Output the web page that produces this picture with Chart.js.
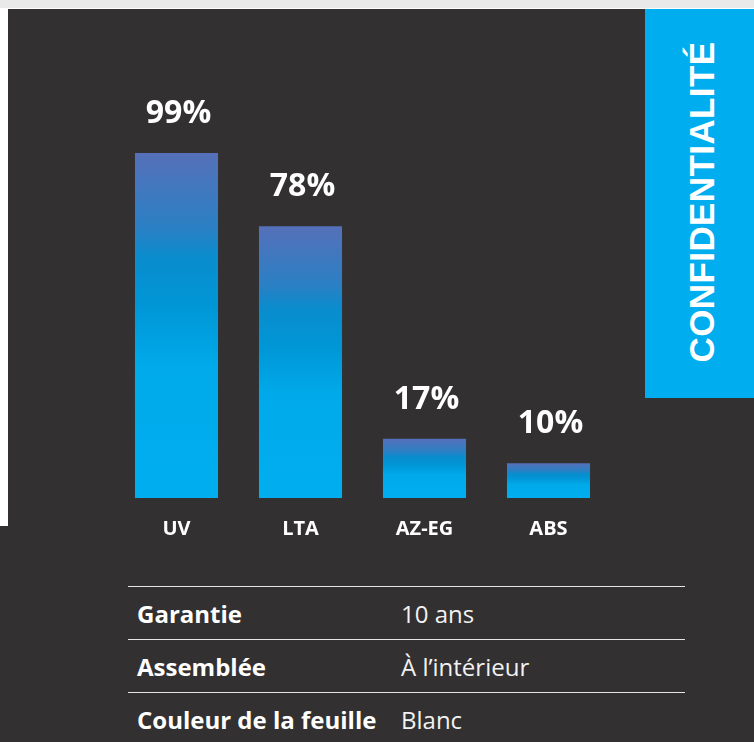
<!DOCTYPE html>
<html lang="fr">
<head>
<meta charset="utf-8">
<title>Confidentialité</title>
<script src="https://cdn.jsdelivr.net/npm/chart.js@4/dist/chart.umd.min.js"></script>
<style>
  html, body {
    margin: 0;
    padding: 0;
    width: 754px;
    height: 742px;
    overflow: hidden;
    background: #323031;
    font-family: "Open Sans", sans-serif;
  }
  .bandeHaut {
    position: absolute;
    left: 0;
    top: 0;
    width: 754px;
    height: 8px;
    background: #e9e9e9;
    border-bottom: 1px solid #ffffff;
  }
  .bandeGauche {
    position: absolute;
    left: 0;
    top: 9px;
    width: 8px;
    height: 517px;
    background: #ffffff;
  }
  .encadreBleu {
    position: absolute;
    left: 645px;
    top: 9px;
    width: 109px;
    height: 389px;
    background: #00adef;
  }
  .encadreBleu span {
    position: absolute;
    left: 57px;
    top: 193px;
    transform: translate(-50%, -50%) rotate(-90deg);
    white-space: nowrap;
    color: #ffffff;
    font-family: "Liberation Sans", Arial, sans-serif;
    font-weight: bold;
    font-size: 35px;
    letter-spacing: 0.4px;
  }
  #zoneGraphique {
    position: absolute;
    left: 0;
    top: 0;
    width: 645px;
    height: 580px;
  }
  table {
    position: absolute;
    left: 128px;
    top: 586px;
    width: 557px;
    border-collapse: collapse;
    color: #ffffff;
    font-size: 24px;
  }
  td {
    height: 52px;
    padding: 0 0 0 9px;
    border-top: 1px solid #e4e4e4;
    vertical-align: middle;
  }
  td.libelle {
    font-weight: bold;
    width: 255px;
  }
  td.valeur {
    font-weight: normal;
    color: #f2f2f2;
  }
</style>
</head>
<body>
<div class="bandeHaut"></div>
<div class="bandeGauche"></div>
<div class="encadreBleu"><span>CONFIDENTIALITÉ</span></div>
<div id="zoneGraphique"><canvas id="myChartConfidentialite"></canvas></div>
<table id="tableauCaracteristiques"></table>

<script>
//? Données du graphique.

const categories = ["UV", "LTA", "AZ-EG", "ABS"];
const valeursPourcentage = [99, 78, 17, 10];

//? Données du tableau.

const libellesTableau = ["Garantie", "Assemblée", "Couleur de la feuille"];
const valeursTableau = ["10 ans", "À l’intérieur", "Blanc"];

//? -------------------------------------------------

//? Construction du tableau.

const constructionTableau = () => {
  const tableau = document.getElementById("tableauCaracteristiques");
  libellesTableau.forEach((libelle, i) => {
    const ligne = document.createElement("tr");
    const cLibelle = document.createElement("td");
    cLibelle.className = "libelle";
    cLibelle.textContent = libelle;
    const cValeur = document.createElement("td");
    cValeur.className = "valeur";
    cValeur.textContent = valeursTableau[i];
    ligne.appendChild(cLibelle);
    ligne.appendChild(cValeur);
    tableau.appendChild(ligne);
  });
};

//? -------------------------------------------------

//? Dégradé de chaque barre (violet en haut, cyan en bas).

const degradeBarre = (context) => {
  const chart = context.chart;
  const { ctx, chartArea, scales } = chart;
  if (!chartArea || !scales.y) return "#00aeef";
  const valeur = context.raw;
  const haut = scales.y.getPixelForValue(valeur);
  const bas = scales.y.getPixelForValue(0);
  if (!isFinite(haut) || !isFinite(bas) || haut === bas) return "#00aeef";
  const gradient = ctx.createLinearGradient(0, haut, 0, bas);
  gradient.addColorStop(0, "#5570b9");
  gradient.addColorStop(0.22, "#2a80c4");
  gradient.addColorStop(0.3, "#0a8ccd");
  gradient.addColorStop(0.45, "#0097d7");
  gradient.addColorStop(0.62, "#00aaea");
  gradient.addColorStop(1, "#00aeef");
  return gradient;
};

//? Étiquettes des pourcentages au-dessus des barres.

const pluginEtiquettes = {
  id: "etiquettesPourcentage",
  afterDatasetsDraw(chart) {
    const { ctx } = chart;
    const meta = chart.getDatasetMeta(0);
    ctx.save();
    ctx.fillStyle = "#ffffff";
    ctx.font = "bold 32px 'Open Sans'";
    ctx.textAlign = "center";
    ctx.textBaseline = "middle";
    meta.data.forEach((barre, i) => {
      ctx.fillText(valeursPourcentage[i] + "%", barre.x + 2, barre.y - 39);
    });
    ctx.restore();
  },
};

//? -------------------------------------------------

//? Construction du graphique.

const constructionDuGraphique = () => {
  try {
    const ctx = document.getElementById("myChartConfidentialite").getContext("2d");

    const data = {
      labels: categories,
      datasets: [
        {
          label: "Confidentialité",
          data: valeursPourcentage,
          backgroundColor: degradeBarre,
          borderWidth: 0,
          barPercentage: 0.67,
          categoryPercentage: 1,
        },
      ],
    };

    const options = {
      responsive: true,
      maintainAspectRatio: false,
      animation: {
        duration: 0,
      },
      layout: {
        padding: { left: 114.5, right: 34.5, top: 149.5, bottom: 20 },
      },
      plugins: {
        legend: { display: false },
        tooltip: { enabled: false },
      },
      scales: {
        x: {
          grid: { display: false, drawTicks: false },
          border: { display: false },
          ticks: {
            color: "#ffffff",
            padding: 19,
            font: { family: "'Open Sans'", size: 20, weight: "bold" },
          },
        },
        y: {
          display: false,
          min: 0,
          max: 100,
        },
      },
    };

    new Chart(ctx, {
      type: "bar",
      data,
      options,
      plugins: [pluginEtiquettes],
    });
  } catch (error) {
    console.log("🔴 ERREUR | Construction graphique :", error);
  }
};

constructionTableau();
constructionDuGraphique();
</script>
</body>
</html>
